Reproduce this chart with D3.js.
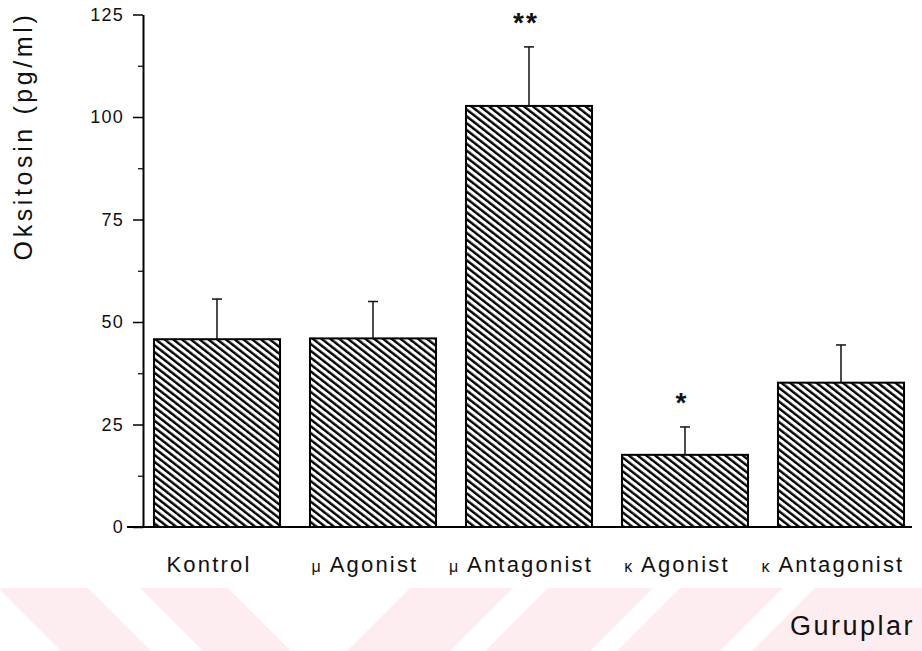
<!DOCTYPE html>
<html>
<head>
<meta charset="utf-8">
<script src="https://cdn.jsdelivr.net/npm/d3@7"></script>
<style>
  body { margin: 0; background: #fff; }
  svg { display: block; font-family: "Liberation Sans", Arial, sans-serif; }
</style>
</head>
<body>
<svg width="922" height="651"></svg>
<script>
// data
const groups = ['Kontrol', 'μ Agonist', 'μ Antagonist', 'κ Agonist', 'κ Antagonist'];
const means = [45.8, 46.0, 102.7, 17.6, 35.2];
const sems = [9.8, 9.0, 14.4, 6.8, 9.2];
const stars = ['', '', '**', '*', ''];
const yTicks = [0, 25, 50, 75, 100, 125];
const yMinorTicks = [12.5, 37.5, 62.5, 87.5, 112.5];

// faint background watermark stripes (decoration)
const wmStripes = [
  {x: -2, w: 90, dir: 1},
  {x: 140, w: 88, dir: 1},
  {x: 410, w: 103, dir: -1},
  {x: 548, w: 105, dir: -1},
  {x: 680, w: 103, dir: -1},
  {x: 815, w: 200, dir: -1}
];

const svg = d3.select('svg');
const width = +svg.attr('width');
const height = +svg.attr('height');

const data = groups.map((g, i) => ({group: g, mean: means[i], sem: sems[i], star: stars[i]}));

// watermark band
const wmTop = 588, wmBot = height;
svg.append('g').selectAll('polygon').data(wmStripes)
  .enter().append('polygon')
    .attr('points', d => {
      const s = (wmBot - wmTop) * d.dir;
      return [[d.x, wmTop], [d.x + d.w, wmTop], [d.x + d.w + s, wmBot], [d.x + s, wmBot]].join(' ');
    })
    .attr('fill', '#fdedf0');

// hatch pattern
const defs = svg.append('defs');
const pat = defs.append('pattern')
  .attr('id', 'hatch')
  .attr('patternUnits', 'userSpaceOnUse')
  .attr('width', 5.4)
  .attr('height', 10)
  .attr('patternTransform', 'rotate(-52)');
pat.append('rect').attr('width', 5.4).attr('height', 10).attr('fill', '#fff');
pat.append('rect').attr('width', 2.4).attr('height', 10).attr('fill', '#000');

const axisX = 143;
const y = d3.scaleLinear().domain([0, 125]).range([527, 14.5]);
const x = d3.scaleBand()
  .domain(groups)
  .range([139, 919])
  .paddingInner(0.192)
  .paddingOuter(0.096);

// bars
const g = svg.append('g');
g.selectAll('rect.bar').data(data)
  .enter().append('rect')
    .attr('class', 'bar')
    .attr('x', d => x(d.group))
    .attr('y', d => y(d.mean))
    .attr('width', x.bandwidth())
    .attr('height', d => y(0) - y(d.mean))
    .attr('fill', 'url(#hatch)')
    .attr('stroke', '#000')
    .attr('stroke-width', 2);

// error bars (upper only)
const cx = d => x(d.group) + x.bandwidth() / 2;
g.selectAll('line.err').data(data)
  .enter().append('line')
    .attr('x1', cx).attr('x2', cx)
    .attr('y1', d => y(d.mean))
    .attr('y2', d => y(d.mean + d.sem))
    .attr('stroke', '#111').attr('stroke-width', 1.5);
g.selectAll('line.cap').data(data)
  .enter().append('line')
    .attr('x1', d => cx(d) - 5).attr('x2', d => cx(d) + 5)
    .attr('y1', d => y(d.mean + d.sem))
    .attr('y2', d => y(d.mean + d.sem))
    .attr('stroke', '#111').attr('stroke-width', 1.5);

// significance stars
g.selectAll('text.star').data(data.filter(d => d.star))
  .enter().append('text')
    .attr('x', d => cx(d) - 3)
    .attr('y', d => y(d.mean + d.sem) - 15)
    .attr('text-anchor', 'middle')
    .attr('font-size', 28)
    .attr('font-weight', 'bold')
    .attr('letter-spacing', 2)
    .attr('fill', '#111')
    .text(d => d.star);

// y axis
const yAxis = svg.append('g')
  .attr('transform', `translate(${axisX},0)`)
  .call(d3.axisLeft(y).tickValues(yTicks).tickSize(10).tickSizeOuter(0).tickPadding(9));
yAxis.select('.domain').attr('stroke', '#000').attr('stroke-width', 2);
yAxis.selectAll('.tick line').attr('stroke', '#000').attr('stroke-width', 1.5);
yAxis.selectAll('.tick text')
  .attr('font-size', 18)
  .attr('font-family', '"Liberation Sans", Arial, sans-serif')
  .attr('letter-spacing', 1.2)
  .attr('fill', '#111');

const yMinor = svg.append('g')
  .attr('transform', `translate(${axisX},0)`)
  .call(d3.axisLeft(y).tickValues(yMinorTicks).tickSize(5).tickFormat(''));
yMinor.select('.domain').remove();
yMinor.selectAll('.tick line').attr('stroke', '#000').attr('stroke-width', 1.2);

// x baseline
svg.append('line')
  .attr('x1', 127).attr('x2', 912)
  .attr('y1', y(0)).attr('y2', y(0))
  .attr('stroke', '#000').attr('stroke-width', 2);

// x labels
const xAxis = svg.append('g')
  .attr('transform', `translate(0,${y(0)})`)
  .call(d3.axisBottom(x).tickSize(0).tickPadding(0));
xAxis.select('.domain').remove();
xAxis.selectAll('.tick text')
  .attr('font-size', 22)
  .attr('font-family', '"Liberation Sans", Arial, sans-serif')
  .attr('letter-spacing', 2.2)
  .attr('fill', '#111')
  .attr('dy', null)
  .attr('y', 45)
  .attr('dx', -8)
  .each(function(d) {
    const t = d3.select(this);
    const parts = d.split(' ');
    t.text(null);
    if (parts.length > 1) {
      t.append('tspan').attr('font-size', 16).text(parts[0] + ' ');
      t.append('tspan').text(parts.slice(1).join(' '));
    } else {
      t.text(d);
    }
  });

// axis titles
svg.append('text')
  .attr('transform', 'translate(32,136) rotate(-90)')
  .attr('text-anchor', 'middle')
  .attr('font-size', 25)
  .attr('letter-spacing', 3.6)
  .attr('fill', '#111')
  .text('Oksitosin (pg/ml)');

svg.append('text')
  .attr('x', 915)
  .attr('y', 635)
  .attr('text-anchor', 'end')
  .attr('font-size', 27)
  .attr('letter-spacing', 2.5)
  .attr('fill', '#111')
  .text('Guruplar');
</script>
</body>
</html>
